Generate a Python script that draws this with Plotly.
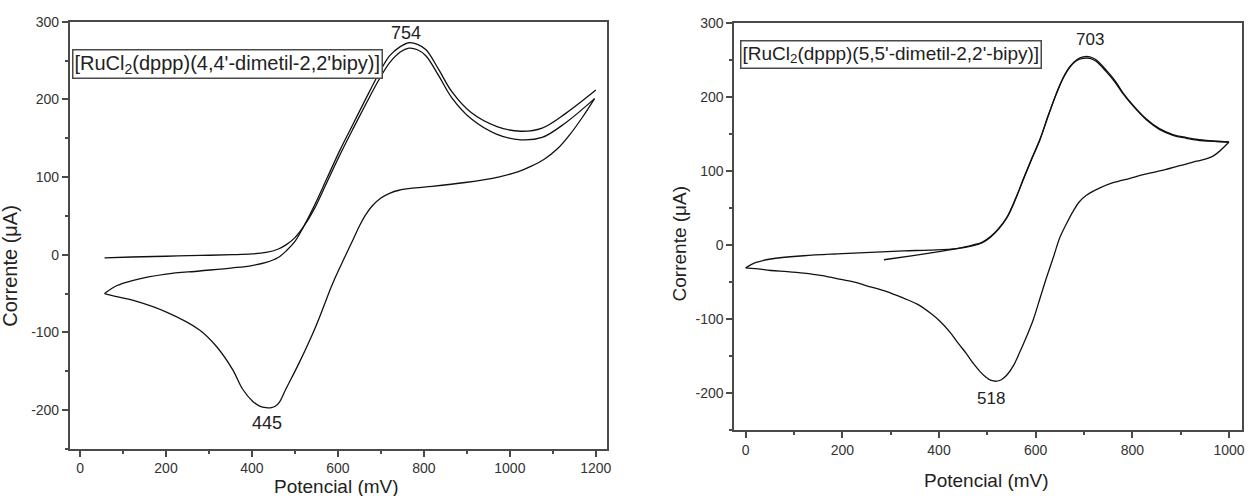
import plotly.graph_objects as go

# ---------------- data (left: 4,4'-dimethyl) ----------------
L_anod1_x = [57, 120, 200, 280, 355, 400, 433, 460, 480, 500, 520, 545, 575, 605, 635, 665, 695, 720, 745, 765, 785, 805, 835, 865, 910, 970, 1025, 1075, 1130, 1197]
L_anod1_y = [-4, -3, -2, -1, 0, 1, 3, 7, 13, 22, 36, 59, 94, 129, 162, 194, 225, 247, 261, 266, 264, 256, 230, 202, 175, 155, 148, 151, 170, 201]

L_cath_x = [1197, 1170, 1140, 1110, 1080, 1050, 1020, 973, 896, 819, 780, 742, 720, 700, 680, 664, 650, 634, 610, 587, 548, 510, 479, 464, 455, 445, 433, 418, 402, 378, 355, 317, 278, 201, 124, 85, 57]
L_cath_y = [201, 178, 155, 136, 123, 114, 107, 100, 93, 88, 86, 83, 79, 73, 63, 51, 37, 18, -10, -38, -93, -139, -173, -190, -195, -197, -197, -195, -189, -173, -148, -118, -97, -74, -59, -54, -50]

L_anod2_x = [57, 85, 124, 200, 278, 355, 400, 433, 460, 480, 500, 520, 545, 575, 605, 635, 665, 695, 720, 745, 765, 785, 805, 835, 865, 910, 970, 1025, 1075, 1130, 1200]
L_anod2_y = [-50, -40, -33, -25, -21, -17, -14, -10, -4, 5, 17, 36, 63, 99, 135, 168, 201, 233, 256, 268, 273, 271, 264, 238, 210, 183, 165, 159, 163, 182, 212]

# ---------------- data (right: 5,5'-dimethyl) ----------------
R_anod1_x = [286, 350, 400, 437, 471, 490, 506, 523, 540, 558, 575, 592, 609, 626, 643, 657, 671, 685, 698, 712, 725, 746, 764, 781, 805, 829, 856, 884, 912, 939, 970, 1000]
R_anod1_y = [-20, -14, -9, -5, 0, 4, 11, 22, 37, 62, 90, 117, 143, 175, 205, 226, 241, 250, 254, 254, 250, 236, 222, 205, 186, 170, 157, 149, 145, 142, 140, 139]

R_cath_x = [1000, 967, 933, 898, 864, 829, 795, 760, 733, 705, 690, 678, 664, 650, 637, 623, 609, 595, 581, 567, 554, 540, 529, 519, 508, 496, 485, 471, 457, 440, 423, 402, 382, 355, 327, 292, 258, 223, 189, 155, 120, 86, 52, 20, 0]
R_cath_y = [139, 120, 113, 107, 101, 96, 90, 84, 77, 67, 58, 46, 29, 10, -16, -43, -72, -101, -124, -145, -163, -176, -182, -184, -183, -178, -171, -160, -147, -133, -118, -103, -92, -80, -72, -63, -56.5, -50, -45.5, -41, -38, -36, -34.5, -32, -31]

R_anod2_x = [0, 20, 52, 120, 189, 258, 327, 380, 437, 471, 490, 506, 523, 540, 558, 575, 592, 609, 626, 643, 657, 671, 685, 698, 712, 725, 746, 764, 781, 805, 829, 856, 884, 912, 939, 970, 1000]
R_anod2_y = [-31, -24, -19, -14.6, -12, -10, -8, -7, -5, -1, 3, 10, 21, 36, 61, 89, 116, 142, 174, 204, 225, 240, 249, 252, 252, 248, 234, 220, 204, 185, 169, 156, 148, 144, 141, 140, 139]

# ---------------- tick labels ----------------
L_xticks = [0, 200, 400, 600, 800, 1000, 1200]
R_xticks = [0, 200, 400, 600, 800, 1000]
yticks = [-200, -100, 0, 100, 200, 300]
L_xticktext = ["0", "200", "400", "600", "800", "1000", "1200"]
R_xticktext = ["0", "200", "400", "600", "800", "1000"]
yticktext = ["-200", "-100", "0", "100", "200", "300"]

left_label = "[RuCl<sub>2</sub>(dppp)(4,4'-dimetil-2,2'bipy)]"
right_label = "[RuCl<sub>2</sub>(dppp)(5,5'-dimetil-2,2'-bipy)]"
peak_labels = ["754", "445", "703", "518"]
x_title = "Potencial (mV)"
y_title = "Corrente (\u03bcA)"

W, H = 1258, 496
FONT = "Arial, Liberation Sans, sans-serif"

def px(x):
    return x / W

def py(y):
    return 1 - y / H

fig = go.Figure()
line = dict(color="#111111", width=1.3, shape="spline", smoothing=1.0)
for xs, ys in [(L_anod1_x, L_anod1_y), (L_cath_x, L_cath_y), (L_anod2_x, L_anod2_y)]:
    fig.add_trace(go.Scatter(x=xs, y=ys, mode="lines", line=line, xaxis="x", yaxis="y", showlegend=False))
for xs, ys in [(R_anod1_x, R_anod1_y), (R_cath_x, R_cath_y), (R_anod2_x, R_anod2_y)]:
    fig.add_trace(go.Scatter(x=xs, y=ys, mode="lines", line=line, xaxis="x2", yaxis="y2", showlegend=False))

AXC = "#4a4a4a"
axcommon = dict(
    showline=True, linecolor=AXC, linewidth=1.5, mirror=True,
    showgrid=False, zeroline=False, ticks="outside", ticklen=6, tickwidth=1.5,
    tickcolor=AXC, tickfont=dict(family=FONT, size=14, color="#333333"),
)
def minor(d):
    return dict(dtick=d, tick0=0, ticks="outside", ticklen=3, tickwidth=1.5, tickcolor=AXC)

fig.update_layout(
    width=W, height=H, margin=dict(l=0, r=0, t=0, b=0),
    paper_bgcolor="white", plot_bgcolor="white",
    xaxis=dict(domain=[px(70), px(609)], range=[-24, 1225], anchor="y",
               tickvals=L_xticks, ticktext=L_xticktext, minor=minor(100), **axcommon),
    yaxis=dict(domain=[py(448), py(14)], range=[-250, 300], anchor="x",
               tickvals=yticks, ticktext=yticktext, minor=minor(50), **axcommon),
    xaxis2=dict(domain=[px(737), px(1247)], range=[-24, 1027], anchor="y2",
                tickvals=R_xticks, ticktext=R_xticktext, minor=minor(100), **axcommon),
    yaxis2=dict(domain=[py(429), py(15)], range=[-250, 300], anchor="x2",
                tickvals=yticks, ticktext=yticktext, minor=minor(50), **axcommon),
)

ann = []
def text_at(x, y, t, size, **kw):
    ann.append(dict(x=px(x), y=py(y), xref="paper", yref="paper", text=t, showarrow=False,
                    xanchor="center", yanchor="middle", font=dict(family=FONT, size=size, color="#222222"), **kw))

# boxed compound labels
text_at(228.5, 56.5, left_label, 20, bordercolor=AXC, borderwidth=1.5, borderpad=1, bgcolor="white")
text_at(894.5, 47.5, right_label, 19, bordercolor=AXC, borderwidth=1.5, borderpad=1, bgcolor="white")
# peak labels
text_at(408, 25, peak_labels[0], 18)
text_at(268, 422, peak_labels[1], 18)
text_at(1094, 32, peak_labels[2], 17)
text_at(995, 397, peak_labels[3], 17)
# axis titles
text_at(338, 486, x_title, 19)
text_at(990, 480, x_title, 19)
text_at(10, 262, y_title, 20, textangle=-90)
text_at(682, 240, y_title, 19, textangle=-90)

fig.update_layout(annotations=ann)
fig.write_html("out.html")
